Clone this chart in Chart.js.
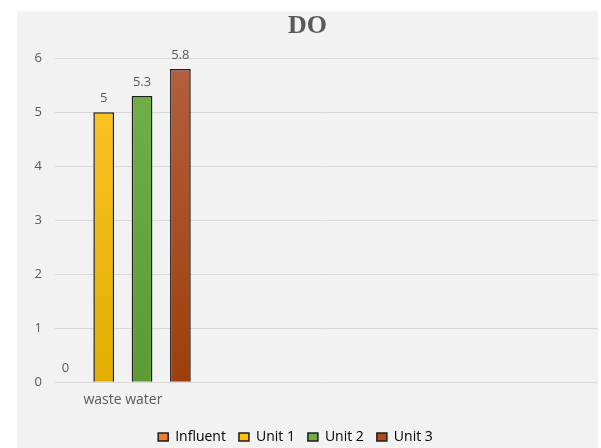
<!DOCTYPE html>
<html>
<head>
<meta charset="utf-8">
<script src="https://cdn.jsdelivr.net/npm/chart.js@4.4.1/dist/chart.umd.min.js"></script>
<style>
  body { margin: 0; background: #fff; }
  #wrap { position: absolute; left: 17px; top: 11px; width: 581px; height: 437px; background: #f2f2f2; }
</style>
</head>
<body>
<div id="wrap"><canvas id="chart" width="581" height="437"></canvas></div>
<script>
// data
const categories = ["waste water", "", "", ""];
const seriesNames = ["Influent", "Unit 1", "Unit 2", "Unit 3"];
const influent = [0, null, null, null];
const unit1 = [5, null, null, null];
const unit2 = [5.3, null, null, null];
const unit3 = [5.8, null, null, null];
const yTicks = [0, 1, 2, 3, 4, 5, 6];

const solid = ["#ED7D31", "#FFC000", "#70AD47", "#B04A17"];
const gradStops = [
  ["#F08A45", "#E26B22"],
  ["#FFC62A", "#E2AE00"],
  ["#72B04C", "#5C9A36"],
  ["#B3603F", "#9E3F0B"]
];

function grad(i) {
  return function (ctx) {
    const area = ctx.chart.chartArea;
    if (!area) return solid[i];
    const g = ctx.chart.ctx.createLinearGradient(0, area.top, 0, area.bottom);
    g.addColorStop(0, gradStops[i][0]);
    g.addColorStop(1, gradStops[i][1]);
    return g;
  };
}

// value labels above the bars
const valueLabels = {
  id: "valueLabels",
  afterDatasetsDraw(chart) {
    const c = chart.ctx;
    c.save();
    c.font = "13px 'Open Sans'";
    c.fillStyle = "#595959";
    c.textAlign = "center";
    c.textBaseline = "middle";
    chart.data.datasets.forEach((ds, i) => {
      chart.getDatasetMeta(i).data.forEach((bar, j) => {
        const v = ds.data[j];
        if (v === null || v === undefined) return;
        c.fillText(String(v), bar.x, bar.y - 14);
      });
    });
    c.restore();
  }
};

// the legend sits a little left of centre in the original
const legendShift = {
  id: "legendShift",
  afterLayout(chart) {
    chart.legend.left -= 12;
    chart.legend.right -= 12;
  }
};

const allSeries = [influent, unit1, unit2, unit3];

new Chart(document.getElementById("chart"), {
  type: "bar",
  data: {
    labels: categories,
    datasets: allSeries.map((d, i) => ({
      label: seriesNames[i],
      data: d,
      backgroundColor: grad(i),
      borderColor: "#1e1e1e",
      borderWidth: ctx => (ctx.raw ? 1.5 : 0),
      barPercentage: 0.54,
      categoryPercentage: 1.13
    }))
  },
  options: {
    responsive: false,
    animation: false,
    layout: { padding: { top: 0, left: 0, right: 0, bottom: -6 } },
    plugins: {
      title: {
        display: true,
        text: "DO",
        color: "#595959",
        font: { family: "'Liberation Serif'", size: 26, weight: "bold" },
        padding: { top: 0, bottom: 16 }
      },
      legend: {
        position: "bottom",
        labels: {
          boxWidth: 10,
          boxHeight: 8,
          padding: 13,
          color: "#595959",
          font: { family: "'Open Sans'", size: 14 },
          generateLabels: chart => seriesNames.map((n, i) => ({
            text: n,
            fillStyle: solid[i],
            strokeStyle: "#1e1e1e",
            lineWidth: 1.5,
            datasetIndex: i
          }))
        }
      },
      tooltip: { enabled: false }
    },
    scales: {
      x: {
        grid: { display: false, drawTicks: false },
        border: { display: false },
        ticks: { color: "#595959", font: { family: "'Open Sans'", size: 14 }, padding: 9 }
      },
      y: {
        min: 0,
        max: 6,
        afterFit: s => { s.width = 38; },
        afterBuildTicks: s => { s.ticks = yTicks.map(v => ({ value: v })); },
        grid: { color: "#d9d9d9", drawTicks: false },
        border: { display: false },
        ticks: { color: "#595959", font: { family: "'Open Sans'", size: 13 }, padding: 13 }
      }
    }
  },
  plugins: [valueLabels, legendShift]
});
</script>
</body>
</html>
